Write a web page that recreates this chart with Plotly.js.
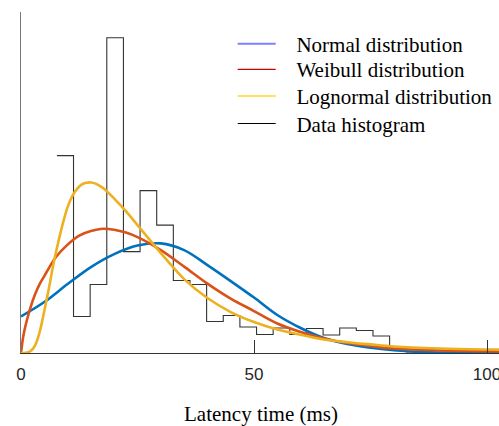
<!DOCTYPE html>
<html>
<head>
<meta charset="utf-8">
<script src="https://cdn.plot.ly/plotly-3.0.1.min.js"></script>
<style>
  html, body { margin: 0; padding: 0; background: #ffffff; overflow: hidden; }
  #chart { width: 499px; height: 426px; }
</style>
</head>
<body>
<div id="chart"></div>
<script>
// ---- Data (densities) ----
// Histogram (stairs): bin edges and densities
const binEdges = [7.70, 11.27, 14.84, 18.41, 21.98, 25.55, 29.12, 32.69, 36.26, 39.83,
                  43.40, 46.97, 50.54, 54.11, 57.68, 61.25, 64.82, 68.39, 71.96, 75.53,
                  79.10, 82.67, 86.24];
const binDensity = [0.0395, 0.0073, 0.0137, 0.0631, 0.0203, 0.0325, 0.0256, 0.0145, 0.0137, 0.0063,
                    0.0075, 0.0052, 0.0037, 0.0050, 0.0037, 0.0049, 0.0036, 0.0050, 0.0045, 0.0034,
                    0.0007, 0.0002];

// Normal distribution fit
const normalX = [0, 5, 10, 15, 20, 25, 30, 35, 40, 45, 50, 55, 60, 65, 70, 75, 80, 85, 90, 95, 100, 105];
const normalY = [0.00732, 0.0102, 0.0138, 0.0172, 0.0198, 0.0215, 0.02194, 0.0206, 0.0176, 0.0144,
                 0.0111, 0.0076, 0.0050, 0.0030, 0.0018, 0.00106, 0.00056, 0.00024, 0.0001, 0.00004,
                 0.00001, 0];

// Weibull distribution fit
const weibullX = [0, 0.5, 1, 2, 3, 4, 5, 7.5, 10, 12.5, 15, 17.5, 20, 22.5, 25, 30, 35, 40, 45, 50,
                  55, 60, 65, 70, 75, 80, 90, 100, 105];
const weibullY = [0, 0.0034, 0.0056, 0.0090, 0.0117, 0.0138, 0.0154, 0.0192, 0.0217, 0.0235,
                  0.0244, 0.02486, 0.02466, 0.0241, 0.0232, 0.0206, 0.0173, 0.0139, 0.0109, 0.0084,
                  0.0059, 0.0042, 0.0029, 0.0020, 0.0014, 0.0009, 0.0005, 0.00034, 0.0003];

// Lognormal distribution fit
const lognormX = [0, 1, 2, 3, 4, 5, 6, 7, 8, 9, 10, 11, 12, 13, 14, 15, 16, 17, 18, 20, 22.5, 25,
                  27.5, 30, 35, 40, 45, 50, 55, 60, 65, 70, 75, 80, 90, 100, 105];
const lognormY = [0, 0.00004, 0.00034, 0.0015, 0.0042, 0.0084, 0.0130, 0.0180, 0.0222, 0.0260,
                  0.0292, 0.0314, 0.0328, 0.0337, 0.03406, 0.03414, 0.0339, 0.0334, 0.03274, 0.0309,
                  0.0284, 0.0256, 0.0228, 0.0200, 0.0148, 0.0110, 0.0082, 0.0062, 0.0047, 0.00366,
                  0.0027, 0.00216, 0.00172, 0.0013, 0.0009, 0.0007, 0.00064];

// Legend labels and x tick labels
const seriesNames = ['Normal distribution', 'Weibull distribution', 'Lognormal distribution', 'Data histogram'];
const xTickVals = [0, 50, 100];
const xTickText = ['0', '50', '100'];
const xTitle = 'Latency time (ms)';

// ---- Styles ----
const curveColors = ['#0072BD', '#D95319', '#EDB120'];
const legendColors = ['#7f7fff', '#cc0000', '#ffe15a', '#000000'];
const legendWidths = [2, 1.2, 2, 1.2];
const legendRowsY = [0.906, 0.831, 0.753, 0.672];
const legendIds = ['legend', 'legend2', 'legend3', 'legend4'];
const pad = '\u00a0\u00a0\u00a0';

const traces = [];
// histogram stairs
traces.push({
  x: binEdges,
  y: binDensity.concat([0]),
  mode: 'lines',
  line: { shape: 'hv', color: '#333333', width: 1.1 },
  showlegend: false, hoverinfo: 'skip'
});
[[normalX, normalY], [weibullX, weibullY], [lognormX, lognormY]].forEach((d, i) => {
  traces.push({
    x: d[0], y: d[1], mode: 'lines',
    line: { shape: 'spline', smoothing: 1, color: curveColors[i], width: 2.6 },
    showlegend: false, hoverinfo: 'skip'
  });
});
// legend entries (one small legend per row for exact spacing)
seriesNames.forEach((n, i) => {
  traces.push({
    x: [null], y: [null], mode: 'lines', name: pad + n,
    line: { color: legendColors[i], width: legendWidths[i] },
    showlegend: true, legend: legendIds[i]
  });
});

const layout = {
  width: 520, height: 426,
  margin: { l: 21, r: 19, t: 12, b: 73 },
  paper_bgcolor: '#ffffff', plot_bgcolor: '#ffffff',
  showlegend: true,
  xaxis: {
    range: [0, 103],
    tickvals: xTickVals, ticktext: xTickText,
    ticks: 'inside', ticklen: 13, tickwidth: 1, tickcolor: '#333333',
    ticklabelstandoff: 6,
    showline: true, linecolor: '#333333', linewidth: 1,
    showgrid: false, zeroline: false,
    tickfont: { family: 'Liberation Sans, Arial, sans-serif', size: 17, color: '#262626' },
    title: { text: xTitle, font: { family: 'Liberation Serif, serif', size: 21, color: '#000000' }, standoff: 22 }
  },
  yaxis: {
    range: [0, 0.06826],
    showline: true, linecolor: '#777777', linewidth: 1.4,
    ticks: '', showticklabels: false, showgrid: false, zeroline: false
  }
};
legendIds.forEach((id, i) => {
  layout[id] = {
    x: 0.441, y: legendRowsY[i], xanchor: 'left', yanchor: 'middle',
    font: { family: 'Liberation Serif, serif', size: 21, color: '#000000' },
    bgcolor: 'rgba(0,0,0,0)', borderwidth: 0, itemwidth: 38
  };
});

Plotly.newPlot('chart', traces, layout, { displayModeBar: false, staticPlot: true });
</script>
</body>
</html>
